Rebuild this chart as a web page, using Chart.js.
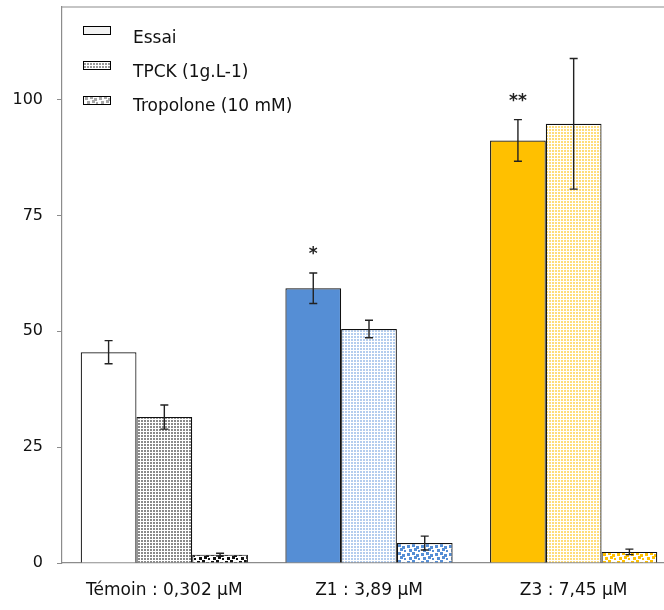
<!DOCTYPE html>
<html lang="fr">
<head>
<meta charset="utf-8">
<title>Essai / TPCK / Tropolone</title>
<script src="https://cdn.jsdelivr.net/npm/chart.js@4/dist/chart.umd.min.js"></script>
<style>
	html, body { margin: 0; padding: 0; background: #fff; overflow: hidden; }
	#graficoEssai { display: block; }
</style>
</head>
<body>
<canvas id="graficoEssai" width="680" height="610"></canvas>
<script>
var categories = ['Témoin : 0,302 µM', 'Z1 : 3,89 µM', 'Z3 : 7,45 µM'];
var seriesNames = ['Essai', 'TPCK (1g.L-1)', 'Tropolone (10 mM)'];

var essai = [45.5, 59.3, 91.2];
var essaiErr = [2.5, 3.3, 4.5];
var tpck = [31.5, 50.5, 94.8];
var tpckErr = [2.6, 1.9, 14.1];
var tropolone = [1.8, 4.3, 2.4];
var tropoloneErr = [0.3, 1.5, 0.6];

// asterisques de significativite (serie Essai)
var essaiSignif = ['', '*', '**'];

var yTicks = [0, 25, 50, 75, 100];
var yMax = 120;

var FONT = '"DejaVu Sans", sans-serif';

// motif de petits points serres (TPCK)
function motifFin(couleur) {
	var c = document.createElement('canvas');
	c.width = 3; c.height = 3;
	var g = c.getContext('2d');
	g.fillStyle = '#ffffff';
	g.fillRect(0, 0, 3, 3);
	g.fillStyle = couleur;
	g.fillRect(0, 0, 2, 2);
	return g.createPattern(c, 'repeat');
}

// motif de points epars (Tropolone)
function motifEpars(couleur) {
	var c = document.createElement('canvas');
	c.width = 14; c.height = 8;
	var g = c.getContext('2d');
	g.fillStyle = '#ffffff';
	g.fillRect(0, 0, 14, 8);
	g.fillStyle = couleur;
	[[1, 1], [6, 0], [10, 2], [3, 5], [8, 4], [12, 6]].forEach(function(p) {
		g.fillRect(p[0], p[1], 3, 3);
	});
	return g.createPattern(c, 'repeat');
}

var couleursEssai = ['#ffffff', '#558ed5', '#ffc000'];
var couleursTpck = [motifFin('#8a8a8a'), motifFin('#b4cdee'), motifFin('#ffdd7a')];
var couleursTropolone = [motifEpars('#111111'), motifEpars('#558ed5'), motifEpars('#ffc000')];
var legendeSwatch = ['#f2f2f2', motifFin('#9a9a9a'), motifEpars('#a8a8a8')];

var erreurs = [essaiErr, tpckErr, tropoloneErr];

var barresErreur = {
	id: 'barresErreur',
	afterDatasetsDraw: function(chart) {
		var ctx = chart.ctx;
		var y = chart.scales.y;
		ctx.save();
		chart.data.datasets.forEach(function(ds, i) {
			var meta = chart.getDatasetMeta(i);
			meta.data.forEach(function(bar, j) {
				var v = ds.data[j];
				var e = erreurs[i][j];
				var yh = y.getPixelForValue(v + e);
				var yb = y.getPixelForValue(v - e);
				ctx.strokeStyle = '#222';
				ctx.lineWidth = 1.4;
				ctx.beginPath();
				ctx.moveTo(bar.x, yh); ctx.lineTo(bar.x, yb);
				ctx.moveTo(bar.x - 4, yh); ctx.lineTo(bar.x + 4, yh);
				ctx.moveTo(bar.x - 4, yb); ctx.lineTo(bar.x + 4, yb);
				ctx.stroke();
				if (i === 0 && essaiSignif[j]) {
					ctx.fillStyle = '#222';
					ctx.font = 'bold 17px ' + FONT;
					ctx.textAlign = 'center';
					ctx.textBaseline = 'middle';
					ctx.fillText(essaiSignif[j], bar.x, yh - 18);
				}
			});
		});
		ctx.restore();
	}
};

var cadreEtLegende = {
	id: 'cadreEtLegende',
	afterDraw: function(chart) {
		var ctx = chart.ctx;
		var a = chart.chartArea;
		ctx.save();
		// bordure du haut
		ctx.strokeStyle = '#8c8c8c';
		ctx.lineWidth = 1.2;
		ctx.beginPath();
		ctx.moveTo(a.left, a.top);
		ctx.lineTo(a.right, a.top);
		ctx.stroke();

		// legende dans la zone de trace
		seriesNames.forEach(function(nom, i) {
			var sy = a.top + 19 + i * 35;
			ctx.fillStyle = legendeSwatch[i];
			ctx.fillRect(a.left + 21, sy, 28, 8);
			ctx.strokeStyle = '#000';
			ctx.lineWidth = 1;
			ctx.strokeRect(a.left + 21.5, sy + 0.5, 27, 8);
			ctx.fillStyle = '#111';
			ctx.font = '17px ' + FONT;
			ctx.textAlign = 'left';
			ctx.textBaseline = 'alphabetic';
			ctx.fillText(nom, a.left + 71, a.top + 36 + i * 34);
		});
		ctx.restore();
	}
};

var ctx = document.getElementById('graficoEssai').getContext('2d');

new Chart(ctx, {
	type: 'bar',
	data: {
		labels: categories,
		datasets: [{
			label: seriesNames[0],
			data: essai,
			backgroundColor: couleursEssai,
			borderColor: '#111',
			borderWidth: 1.2
		}, {
			label: seriesNames[1],
			data: tpck,
			backgroundColor: couleursTpck,
			borderColor: '#111',
			borderWidth: 1.2
		}, {
			label: seriesNames[2],
			data: tropolone,
			backgroundColor: couleursTropolone,
			borderColor: '#111',
			borderWidth: 1.2
		}]
	},
	options: {
		responsive: false,
		animation: false,
		categoryPercentage: 0.817,
		barPercentage: 1,
		layout: { padding: { top: 7, right: 4, left: 0, bottom: 0 } },
		plugins: {
			legend: { display: false },
			tooltip: { enabled: false }
		},
		scales: {
			x: {
				grid: { display: false },
				border: { display: true, color: '#8c8c8c', width: 1.2 },
				ticks: { color: '#111', font: { family: FONT, size: 17 }, padding: 9, maxRotation: 0 },
				afterFit: function(s) { s.height = 47; }
			},
			y: {
				min: 0,
				max: yMax,
				afterBuildTicks: function(s) {
					s.ticks = yTicks.map(function(v) { return { value: v }; });
				},
				grid: { drawOnChartArea: false, drawTicks: true, tickLength: 5, color: '#8c8c8c' },
				border: { display: true, color: '#8c8c8c', width: 1.2 },
				ticks: { color: '#111', font: { family: FONT, size: 16 }, padding: 14 },
				afterFit: function(s) {
					s.width = 62;
					s.paddingTop = 0;
					s.paddingBottom = 0;
				}
			}
		}
	},
	plugins: [barresErreur, cadreEtLegende]
});
</script>
</body>
</html>
